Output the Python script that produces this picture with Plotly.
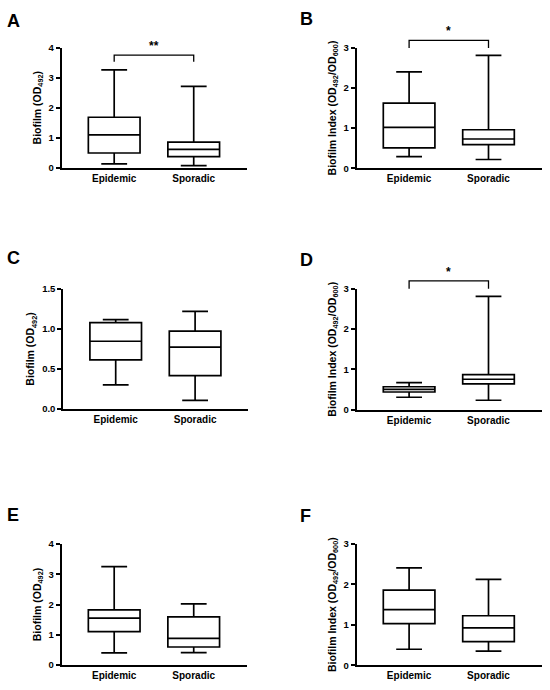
import plotly.graph_objects as go

W, H = 550, 690

# ---------------- data ----------------
categories = ["Epidemic", "Sporadic"]

# each: [Epidemic, Sporadic]
A_min = [0.13, 0.07]
A_q1 = [0.49, 0.37]
A_med = [1.09, 0.61]
A_q3 = [1.68, 0.85]
A_max = [3.26, 2.71]

B_min = [0.29, 0.22]
B_q1 = [0.51, 0.59]
B_med = [1.02, 0.73]
B_q3 = [1.62, 0.96]
B_max = [2.40, 2.81]

C_min = [0.302, 0.110]
C_q1 = [0.613, 0.417]
C_med = [0.846, 0.772]
C_q3 = [1.079, 0.973]
C_max = [1.116, 1.218]

D_min = [0.31, 0.236]
D_q1 = [0.44, 0.64]
D_med = [0.504, 0.756]
D_q3 = [0.57, 0.87]
D_max = [0.675, 2.81]

E_min = [0.40, 0.41]
E_q1 = [1.106, 0.596]
E_med = [1.55, 0.88]
E_q3 = [1.82, 1.59]
E_max = [3.25, 2.02]

F_min = [0.397, 0.349]
F_q1 = [1.03, 0.584]
F_med = [1.379, 0.925]
F_q3 = [1.857, 1.225]
F_max = [2.41, 2.125]

panel_letters = ["A", "B", "C", "D", "E", "F"]
y_titles = [
    "Biofilm (OD<sub>492</sub>)",
    "Biofilm Index (OD<sub>492</sub>/OD<sub>600</sub>)",
    "Biofilm (OD<sub>492</sub>)",
    "Biofilm Index (OD<sub>492</sub>/OD<sub>600</sub>)",
    "Biofilm (OD<sub>492</sub>)",
    "Biofilm Index (OD<sub>492</sub>/OD<sub>600</sub>)",
]
y_max = [4, 3, 1.5, 3, 4, 3]
y_dtick = [1, 1, 0.5, 1, 1, 1]
y_fmt = ["d", "d", ".1f", "d", "d", "d"]

# significance: panel index -> (label, bracket top, bracket end)
significance = {0: ("**", 3.75, 3.53), 1: ("*", 3.18, 2.99), 3: ("*", 3.195, 3.0)}

stats = [
    (A_min, A_q1, A_med, A_q3, A_max),
    (B_min, B_q1, B_med, B_q3, B_max),
    (C_min, C_q1, C_med, C_q3, C_max),
    (D_min, D_q1, D_med, D_q3, D_max),
    (E_min, E_q1, E_med, E_q3, E_max),
    (F_min, F_q1, F_med, F_q3, F_max),
]

# ---------------- layout geometry (pixels) ----------------
px_x = [(61.7, 247), (356.7, 541.7), (63.3, 248.3), (356.7, 541.7), (61.7, 247), (356.7, 541.7)]
px_y = [(42.3, 164.3), (42.3, 165), (287.3, 409.7), (287.3, 410.3), (546.7, 669.7), (546.7, 670)]
letter_pos = [(13.5, 15), (306.5, 13.5), (13.5, 256), (306.5, 258.5), (12.5, 517.5), (305.8, 518.5)]
x_range = [-0.66, 1.67]

FONT = "Liberation Sans, Arial, sans-serif"

fig = go.Figure()
layout = dict(
    width=W, height=H,
    margin=dict(l=0, r=0, t=0, b=0),
    paper_bgcolor="white", plot_bgcolor="white",
    showlegend=False,
    font=dict(family=FONT, color="black"),
)
annotations = []
shapes = []

def xdom(i):
    return [px_x[i][0] / W, px_x[i][1] / W]

def ydom(i):
    return [1 - px_y[i][1] / H, 1 - px_y[i][0] / H]

def to_paper(i, xv, yv):
    xd, yd = xdom(i), ydom(i)
    fx = (xv - x_range[0]) / (x_range[1] - x_range[0])
    fy = yv / y_max[i]
    return xd[0] + fx * (xd[1] - xd[0]), yd[0] + fy * (yd[1] - yd[0])

for i in range(6):
    sfx = "" if i == 0 else str(i + 1)
    mn, q1, md, q3, mx = stats[i]
    for j, cat in enumerate(categories):
        fig.add_trace(go.Box(
            x=[j], q1=[q1[j]], median=[md[j]], q3=[q3[j]],
            lowerfence=[mn[j]], upperfence=[mx[j]],
            width=0.65, whiskerwidth=0.5,
            fillcolor="white", line=dict(color="black", width=1.7),
            boxpoints=False, name=cat,
            xaxis="x" + sfx, yaxis="y" + sfx,
        ))
    layout["xaxis" + sfx] = dict(
        domain=xdom(i), range=x_range, anchor="y" + sfx,
        tickmode="array", tickvals=[0, 1], ticktext=["<b>%s</b>" % c for c in categories],
        showline=True, linecolor="black", linewidth=2,
        ticks="", showgrid=False, zeroline=False,
        tickfont=dict(size=10, family=FONT, color="black"),
        fixedrange=True,
    )
    layout["yaxis" + sfx] = dict(
        domain=ydom(i), range=[0, y_max[i]], anchor="x" + sfx,
        dtick=y_dtick[i], tick0=0, tickformat=y_fmt[i],
        showline=True, linecolor="black", linewidth=2,
        ticks="outside", ticklen=4, tickwidth=1.5, tickcolor="black",
        showgrid=False, zeroline=False,
        tickprefix="<b>", ticksuffix="</b>",
        tickfont=dict(size=9.5, family=FONT, color="black"),
        title=dict(text="<b>%s</b>" % y_titles[i], font=dict(size=10.5, family=FONT, color="black"), standoff=5),
        fixedrange=True,
    )
    lx, ly = letter_pos[i]
    annotations.append(dict(
        text="<b>%s</b>" % panel_letters[i], x=lx / W, y=1 - ly / H,
        xref="paper", yref="paper", showarrow=False,
        xanchor="center", yanchor="middle",
        font=dict(size=18, family=FONT, color="black"),
    ))
    if i in significance:
        lab, ytop, yend = significance[i]
        x0, yt = to_paper(i, 0, ytop)
        x1, ye = to_paper(i, 1, yend)
        shapes.append(dict(
            type="path", xref="paper", yref="paper",
            path="M %f,%f L %f,%f L %f,%f L %f,%f" % (x0, ye, x0, yt, x1, yt, x1, ye),
            line=dict(color="black", width=1.3),
        ))
        annotations.append(dict(
            text="<b>%s</b>" % lab, x=(x0 + x1) / 2, y=yt,
            xref="paper", yref="paper", showarrow=False,
            xanchor="center", yanchor="bottom", yshift=0,
            font=dict(size=12, family=FONT, color="black"),
        ))

layout["annotations"] = annotations
layout["shapes"] = shapes
fig.update_layout(**layout)
fig.write_html(
    "out.html",
    config={"displayModeBar": False},
    post_script="document.body.style.margin='0';document.body.style.overflow='hidden';",
)
